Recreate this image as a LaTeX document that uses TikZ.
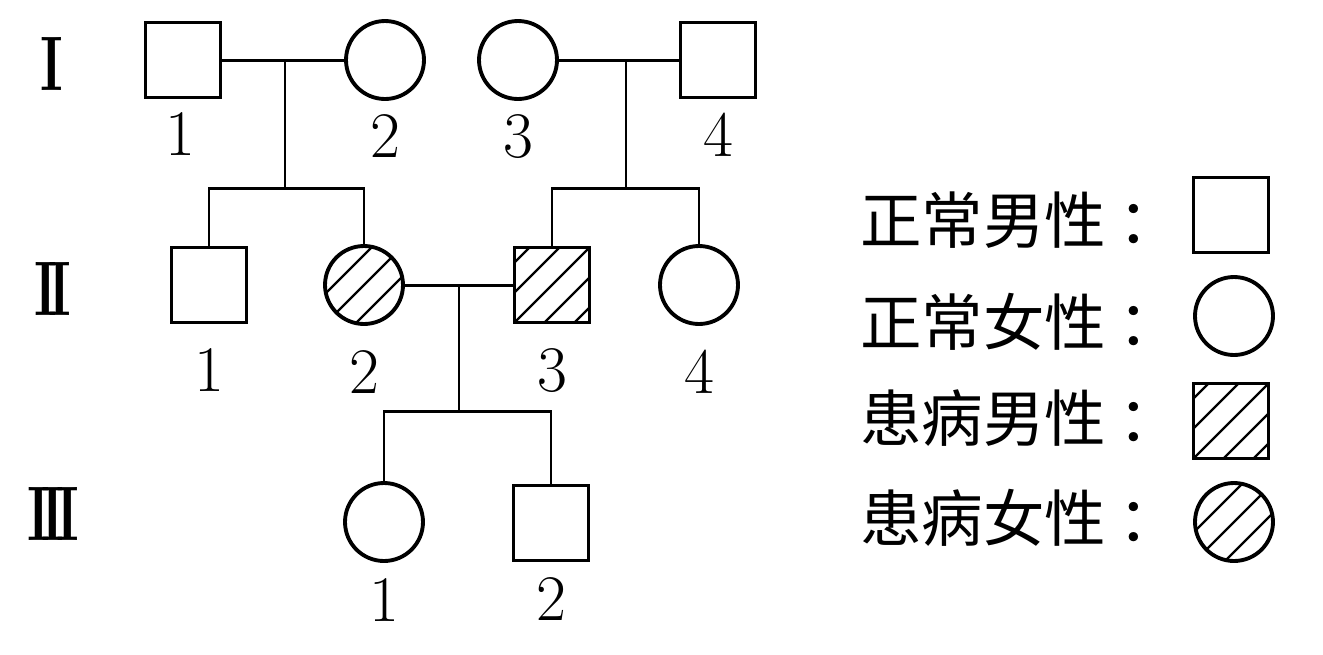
\documentclass[tikz,border=0pt]{standalone}
\usepackage{fontspec}
\newfontfamily\cjkfont{Noto Sans CJK SC}
\usetikzlibrary{positioning, calc}

\begin{document}
\begin{tikzpicture}[
    x=0.02cm, y=-0.02cm,
    male/.style={rectangle, draw=black, line width=2.2pt,
                 minimum size=1.5cm, inner sep=0pt},
    female/.style={circle, draw=black, line width=2.2pt,
                 minimum size=1.56cm, inner sep=0pt},
    hatched/.style={path picture={
        \foreach \k in {-3,...,3}
          \draw[line width=1.3pt]
            ($(path picture bounding box.center)+(\k*0.6cm,0)$)
            ++(-1.2cm,-1.2cm) -- ++(2.4cm,2.4cm);
      }},
    link/.style={line width=1.7pt, black},
    num/.style={font=\fontsize{37}{37}\selectfont, inner sep=0pt},
    gen/.style={font=\fontsize{44}{44}\selectfont\bfseries, inner sep=0pt},
    keytext/.style={font=\fontsize{35}{35}\selectfont\cjkfont,
                 inner sep=0pt, anchor=west},
  ]
    \useasboundingbox (0,0) rectangle (1323,654);

    % ── Generation labels ────────────────────────
    \node[gen] (gI)   at (52,64)  {\scalebox{0.7}[1]{I}};
    \node[gen] (gII)  at (53,289) {\scalebox{0.7}[1]{I\kern-.15em I}};
    \node[gen] (gIII) at (53,514) {\scalebox{0.7}[1]{I\kern-.15em I\kern-.15em I}};

    % ── Generation I ─────────────────────────────
    \node[male]   (i1) at (183,60) {};
    \node[female] (i2) at (385,60) {};
    \node[female] (i3) at (518,60) {};
    \node[male]   (i4) at (718,60) {};
    \node[num, below=0.26cm of i1, xshift=-0.06cm] (n-i1) {1};
    \node[num, below=0.26cm of i2] (n-i2) {2};
    \node[num, below=0.26cm of i3] (n-i3) {3};
    \node[num, below=0.26cm of i4] (n-i4) {4};

    % ── Generation II ────────────────────────────
    \node[male]            (ii1) at (209,285) {};
    \node[female, hatched] (ii2) at (364,285) {};
    \node[male, hatched]   (ii3) at (552,285) {};
    \node[female]          (ii4) at (699,285) {};
    \node[num, below=0.48cm of ii1] (n-ii1) {1};
    \node[num, below=0.48cm of ii2] (n-ii2) {2};
    \node[num, below=0.48cm of ii3] (n-ii3) {3};
    \node[num, below=0.48cm of ii4] (n-ii4) {4};

    % ── Generation III ───────────────────────────
    \node[female] (iii1) at (384,522) {};
    \node[male]   (iii2) at (551,523) {};
    \node[num, below=0.3cm of iii1] (n-iii1) {1};
    \node[num, below=0.3cm of iii2] (n-iii2) {2};

    % ── Marriages and offspring ──────────────────
    \coordinate (m12) at (285,60);
    \coordinate (s12) at (285,188);
    \coordinate (m34) at (626,60);
    \coordinate (s34) at (626,188);
    \coordinate (m23) at (459,285);
    \coordinate (s23) at (459,411);

    \draw[link] (i1) -- (i2);
    \draw[link] (m12) -- (s12);
    \draw[link] (ii1.north) |- (s12) -| (ii2.north);

    \draw[link] (i3) -- (i4);
    \draw[link] (m34) -- (s34);
    \draw[link] (ii3.north) |- (s34) -| (ii4.north);

    \draw[link] (ii2) -- (ii3);
    \draw[link] (m23) -- (s23);
    \draw[link] (iii1.north) |- (s23) -| (iii2.north);

    % ── Legend ───────────────────────────────────
    \node[keytext] (t-male)  at (860,220) {正常男性\kern.2em：};
    \node[keytext] (t-fem)   at (860,322) {正常女性\kern.2em：};
    \node[keytext] (t-amale) at (860,418) {患病男性\kern.2em：};
    \node[keytext] (t-afem)  at (860,518) {患病女性\kern.2em：};
    \node[male]            (k-male)  at (1231,215) {};
    \node[female]          (k-fem)   at (1234,316) {};
    \node[male, hatched]   (k-amale) at (1231,421) {};
    \node[female, hatched] (k-afem)  at (1234,522) {};
  \end{tikzpicture}
\end{document}
